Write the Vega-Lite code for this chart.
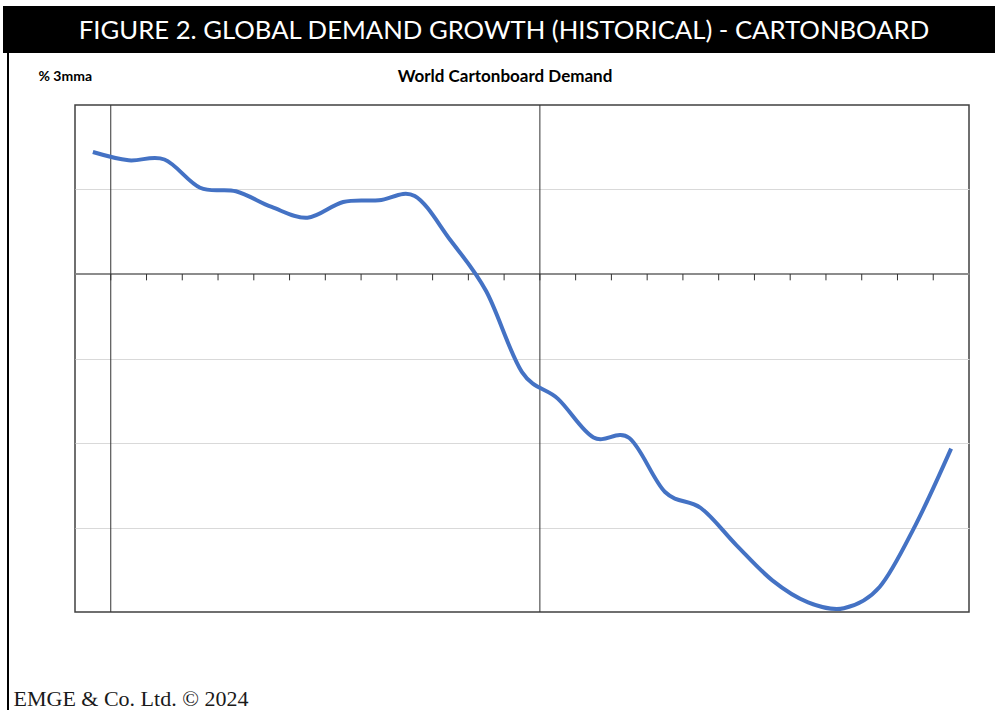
{
  "$schema": "https://vega.github.io/schema/vega-lite/v6.json",
  "autosize": {"type": "pad"},
  "padding": {"left": 3, "top": 6, "right": 0, "bottom": 0},
  "background": "white",
  "spacing": 0,
  "config": {"view": {"stroke": null}},
  "datasets": {
    "demand": [
      {"period": 0, "value": 1.444},
      {"period": 1, "value": 1.346},
      {"period": 2, "value": 1.355},
      {"period": 3, "value": 1.021},
      {"period": 4, "value": 0.979},
      {"period": 5, "value": 0.793},
      {"period": 6, "value": 0.666},
      {"period": 7, "value": 0.852},
      {"period": 8, "value": 0.872},
      {"period": 9, "value": 0.923},
      {"period": 10, "value": 0.399},
      {"period": 11, "value": -0.205},
      {"period": 12, "value": -1.16},
      {"period": 13, "value": -1.475},
      {"period": 14, "value": -1.935},
      {"period": 15, "value": -1.941},
      {"period": 16, "value": -2.58},
      {"period": 17, "value": -2.769},
      {"period": 18, "value": -3.211},
      {"period": 19, "value": -3.625},
      {"period": 20, "value": -3.885},
      {"period": 21, "value": -3.955},
      {"period": 22, "value": -3.704},
      {"period": 23, "value": -2.974},
      {"period": 24, "value": -2.067}
    ],
    "markers": [
      {"boundary": 0.5},
      {"boundary": 12.5}
    ],
    "ticks": [
      {"boundary": 0.5}, {"boundary": 1.5}, {"boundary": 2.5}, {"boundary": 3.5},
      {"boundary": 4.5}, {"boundary": 5.5}, {"boundary": 6.5}, {"boundary": 7.5},
      {"boundary": 8.5}, {"boundary": 9.5}, {"boundary": 10.5}, {"boundary": 11.5},
      {"boundary": 12.5}, {"boundary": 13.5}, {"boundary": 14.5}, {"boundary": 15.5},
      {"boundary": 16.5}, {"boundary": 17.5}, {"boundary": 18.5}, {"boundary": 19.5},
      {"boundary": 20.5}, {"boundary": 21.5}, {"boundary": 22.5}, {"boundary": 23.5}
    ]
  },
  "vconcat": [
    {
      "width": 992,
      "height": 47,
      "view": {"fill": "black", "stroke": null},
      "data": {"values": [{"label": "FIGURE 2. GLOBAL DEMAND GROWTH (HISTORICAL) - CARTONBOARD"}]},
      "mark": {"type": "text", "color": "white", "font": "Lato", "fontSize": 25.7, "align": "center", "baseline": "middle", "dy": 1, "dx": 5},
      "encoding": {"text": {"field": "label"}}
    },
    {
      "spacing": 3,
      "hconcat": [
        {
          "width": 1,
          "height": 657,
          "view": {"stroke": null},
          "data": {"values": []},
          "mark": "point"
        },
        {
          "width": 2,
          "height": 657,
          "view": {"fill": "black", "stroke": null},
          "data": {"values": []},
          "mark": "point"
        },
        {
          "spacing": 0,
          "vconcat": [
            {
              "width": 894,
              "height": 14,
              "view": {"stroke": null},
              "data": {"values": []},
              "mark": "point"
            },
            {
              "width": 894,
              "height": 507,
              "view": {"stroke": "#404040", "strokeWidth": 1.5},
              "title": {
                "text": "World Cartonboard Demand",
                "font": "Lato",
                "fontSize": 17,
                "fontWeight": "bold",
                "color": "black",
                "anchor": "middle",
                "frame": "group",
                "baseline": "alphabetic",
                "dx": -17,
                "offset": -30
              },
              "layer": [
                {
                  "data": {"name": "markers"},
                  "mark": {"type": "rule", "color": "#333333", "strokeWidth": 1},
                  "encoding": {
                    "x": {"field": "boundary", "type": "quantitative", "scale": {"domain": [-0.5, 24.5], "nice": false, "zero": false}}
                  }
                },
                {
                  "data": {"name": "ticks"},
                  "mark": {"type": "rule", "color": "#333333", "strokeWidth": 1},
                  "encoding": {
                    "x": {"field": "boundary", "type": "quantitative"},
                    "y": {"datum": 0, "type": "quantitative"},
                    "y2": {"datum": -0.075}
                  }
                },
                {
                  "data": {"name": "demand"},
                  "mark": {"type": "line", "interpolate": "cardinal", "color": "#4472C4", "strokeWidth": 4},
                  "encoding": {
                    "x": {
                      "field": "period",
                      "type": "quantitative",
                      "scale": {"domain": [-0.5, 24.5], "nice": false, "zero": false},
                      "axis": {
                        "orient": "bottom",
                        "offset": -338.5,
                        "labels": false,
                        "ticks": false,
                        "grid": false,
                        "domainColor": "#8c8c8c",
                        "domainWidth": 2,
                        "title": "EMGE & Co. Ltd. © 2024",
                        "titleFont": "Liberation Serif",
                        "titleFontSize": 22,
                        "titleFontWeight": "normal",
                        "titleColor": "#1a1a1a",
                        "titleAlign": "left",
                        "titleBaseline": "alphabetic",
                        "titleX": -62,
                        "titleY": 431.5
                      }
                    },
                    "y": {
                      "field": "value",
                      "type": "quantitative",
                      "scale": {"domain": [-4, 2], "nice": false, "zero": false},
                      "axis": {
                        "orient": "left",
                        "values": [-3, -2, -1, 1],
                        "grid": true,
                        "gridColor": "#d9d9d9",
                        "gridWidth": 1,
                        "domain": false,
                        "ticks": false,
                        "labels": false,
                        "title": "% 3mma",
                        "titleAngle": 0,
                        "titleAlign": "left",
                        "titleBaseline": "middle",
                        "titleX": -37,
                        "titleY": -29,
                        "titleFont": "Lato",
                        "titleFontSize": 14,
                        "titleFontWeight": "bold",
                        "titleColor": "black"
                      }
                    }
                  }
                }
              ]
            }
          ]
        }
      ]
    }
  ]
}
